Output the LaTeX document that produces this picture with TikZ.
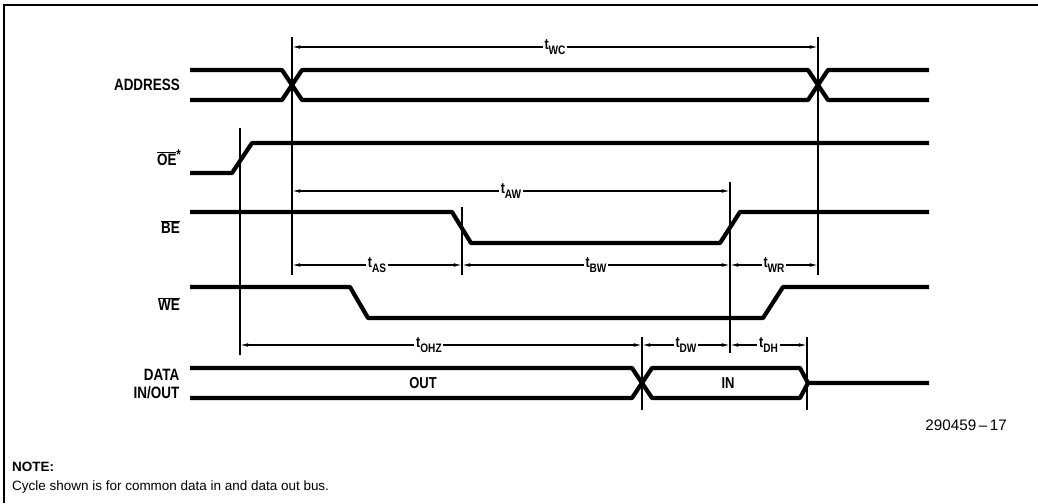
\documentclass[tikz,border=0pt]{standalone}
\usepackage{fontspec}
\setmainfont{Liberation Sans}
\newfontfamily\lblfont[FakeStretch=0.82]{Liberation Sans}
\usepackage{tikz}
\usetikzlibrary{arrows.meta,calc,positioning}
\newcommand{\ovl}[1]{$\overline{\mbox{#1}}$}
\newcommand{\tsub}[1]{t\raisebox{-0.55ex}{\fontsize{10.5}{11}\selectfont #1}}
\tikzset{%
	signal/.style   = {line width=3.6pt, line join=round},
	marker/.style   = {line width=1.3pt},
	timing/.style   = {line width=1pt, {Latex[length=7pt,width=3.2pt]}-{Latex[length=7pt,width=3.2pt]}},
	siglabel/.style = {font=\lblfont\bfseries\fontsize{14}{15}\selectfont, anchor=east, align=right, inner sep=0pt},
	tlabel/.style   = {font=\lblfont\bfseries\fontsize{13}{14}\selectfont, fill=white, inner sep=1.5pt},
	datalabel/.style= {font=\lblfont\bfseries\fontsize{13.5}{14}\selectfont, inner sep=0pt},
}

\begin{document}
\begin{tikzpicture}[x=0.03cm,y=-0.03cm]
	\useasboundingbox (0,0) rectangle (1038,503);
	% frame
	\draw[line width=1.6pt] (4,503) -- (4,5) -- (1038,5);
	% time marks
	\coordinate (tOE) at (240,0);
	\coordinate (tA1) at (292,0);
	\coordinate (tBE1) at (462,0);
	\coordinate (tD1) at (642,0);
	\coordinate (tBE2) at (730,0);
	\coordinate (tD2) at (807,0);
	\coordinate (tA2) at (818,0);
	% signal starts
	\coordinate (addr) at (190,85);
	\coordinate (oe) at (190,158);
	\coordinate (be) at (190,227);
	\coordinate (we) at (190,304);
	\coordinate (data) at (190,384);
	% signals
	\draw[signal] (190,70) -- (282,70) -- (302,100) -- (808,100) -- (828,70) -- (929,70);
	\draw[signal] (190,100) -- (282,100) -- (302,70) -- (808,70) -- (828,100) -- (929,100);
	\draw[signal] (190,173) -- (232,173) -- (252,143) -- (929,143);
	\draw[signal] (190,212) -- (452,212) -- (471,243) -- (720,243) -- (740,212) -- (929,212);
	\draw[signal] (190,287) -- (350,287) -- (368,318) -- (763,318) -- (783,287) -- (929,287);
	\draw[signal] (190,368) -- (632,368) -- (652,398) -- (800,398) -- (808,383) -- (929,383);
	\draw[signal] (190,398) -- (632,398) -- (652,368) -- (800,368) -- (808,383);
	% signal labels
	\node[siglabel, left=8.5pt of addr] {ADDRESS};
	\node[siglabel, left=7pt of oe] {\ovl{OE}\textsuperscript{\large*}};
	\node[siglabel, left=8.5pt of be] {\ovl{BE}};
	\node[siglabel, left=8.5pt of we] {\ovl{WE}};
	\node[siglabel, left=9pt of data] {DATA\\[0.5pt]IN/OUT};
	\node[datalabel] at (423,383) {OUT};
	\node[datalabel] at (728,383) {IN};
	% reference lines
	\draw[marker] (tOE |- 0,128) -- (tOE |- 0,355);
	\draw[marker] (tA1 |- 0,37) -- (tA1 |- 0,275);
	\draw[marker] (tBE1 |- 0,207) -- (tBE1 |- 0,275);
	\draw[marker] (tBE2 |- 0,182) -- (tBE2 |- 0,353);
	\draw[marker] (tA2 |- 0,37) -- (tA2 |- 0,275);
	\draw[marker] (tD1 |- 0,337) -- (tD1 |- 0,410);
	\draw[marker] (tD2 |- 0,337) -- (tD2 |- 0,410);
	% timing parameters
	\draw[timing] (tA1 |- 0,47) -- node[tlabel] {\tsub{WC}} (tA2 |- 0,47);
	\draw[timing] (tA1 |- 0,191) -- node[tlabel] {\tsub{AW}} (tBE2 |- 0,191);
	\draw[timing] (tA1 |- 0,265) -- node[tlabel] {\tsub{AS}} (tBE1 |- 0,265);
	\draw[timing] (tBE1 |- 0,265) -- node[tlabel] {\tsub{BW}} (tBE2 |- 0,265);
	\draw[timing] (tBE2 |- 0,265) -- node[tlabel] {\tsub{WR}} (tA2 |- 0,265);
	\draw[timing] (tOE |- 0,345) -- node[tlabel, pos=0.47] {\tsub{OHZ}} (tD1 |- 0,345);
	\draw[timing] (tD1 |- 0,345) -- node[tlabel] {\tsub{DW}} (tBE2 |- 0,345);
	\draw[timing] (tBE2 |- 0,345) -- node[tlabel] {\tsub{DH}} (tD2 |- 0,345);
	% figure number and note
	\node[anchor=east, font=\fontsize{13}{14}\selectfont, inner sep=0pt] at (1007,425) {290459\,--\,17};
	\node[anchor=west, font=\bfseries\fontsize{11.5}{12}\selectfont, inner sep=0pt] (note) at (12,467) {NOTE:};
	\node[anchor=west, font=\fontsize{11.5}{12}\selectfont, inner sep=0pt] at (12,487) {Cycle shown is for common data in and data out bus.};
\end{tikzpicture}
\end{document}
